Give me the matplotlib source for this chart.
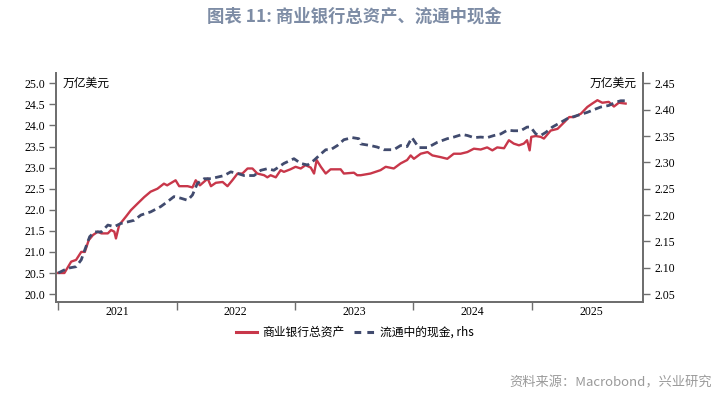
import matplotlib
matplotlib.use("Agg")
import matplotlib.pyplot as plt
from matplotlib.lines import Line2D
import pandas as pd

plt.rcParams["font.family"] = ["Noto Sans CJK SC", "DejaVu Sans"]

# 商业银行总资产 (万亿美元, 左轴)
assets_dates = [
    "2021-01-01", "2021-01-20", "2021-02-10", "2021-02-25", "2021-03-13", "2021-03-24",
    "2021-04-05", "2021-04-18", "2021-05-03", "2021-05-14", "2021-06-03", "2021-06-13",
    "2021-06-23", "2021-06-28", "2021-07-08", "2021-07-29", "2021-08-13", "2021-09-03",
    "2021-09-23", "2021-10-13", "2021-11-03", "2021-11-23", "2021-12-03", "2021-12-29",
    "2022-01-09", "2022-02-04", "2022-02-19", "2022-03-01", "2022-03-14", "2022-04-07",
    "2022-04-17", "2022-05-02", "2022-05-23", "2022-06-07", "2022-06-22", "2022-07-08",
    "2022-07-23", "2022-08-08", "2022-08-23", "2022-09-07", "2022-09-28", "2022-10-08",
    "2022-10-18", "2022-11-03", "2022-11-18", "2022-11-28", "2022-12-18", "2023-01-03",
    "2023-01-19", "2023-02-03", "2023-02-19", "2023-03-01", "2023-03-09", "2023-03-22",
    "2023-04-06", "2023-04-21", "2023-05-22", "2023-06-01", "2023-07-02", "2023-07-12",
    "2023-07-23", "2023-08-22", "2023-09-22", "2023-10-08", "2023-11-02", "2023-11-23",
    "2023-12-13", "2023-12-24", "2024-01-03", "2024-01-24", "2024-02-14", "2024-02-29",
    "2024-03-25", "2024-04-15", "2024-05-05", "2024-05-26", "2024-06-16", "2024-07-06",
    "2024-07-27", "2024-08-16", "2024-09-01", "2024-09-16", "2024-10-07", "2024-10-22",
    "2024-11-06", "2024-11-22", "2024-12-07", "2024-12-17", "2024-12-25", "2024-12-30",
    "2025-01-13", "2025-01-28", "2025-02-07", "2025-02-28", "2025-03-21", "2025-04-11",
    "2025-04-26", "2025-05-11", "2025-06-01", "2025-06-21", "2025-07-06", "2025-07-22",
    "2025-08-06", "2025-08-26", "2025-09-11", "2025-09-26", "2025-10-17",
]
assets = [
    20.50, 20.50, 20.77, 20.81, 21.00, 21.00,
    21.28, 21.40, 21.48, 21.44, 21.44, 21.52,
    21.48, 21.32, 21.64, 21.84, 21.99, 22.15,
    22.30, 22.43, 22.50, 22.62, 22.58, 22.70,
    22.56, 22.56, 22.53, 22.70, 22.58, 22.74,
    22.56, 22.64, 22.66, 22.56, 22.70, 22.86,
    22.86, 22.98, 22.98, 22.86, 22.82, 22.77,
    22.82, 22.77, 22.94, 22.90, 22.96, 23.02,
    22.98, 23.06, 23.00, 22.86, 23.18, 23.02,
    22.86, 22.96, 22.96, 22.86, 22.88, 22.82,
    22.82, 22.86, 22.94, 23.02, 22.98, 23.10,
    23.18, 23.29, 23.21, 23.33, 23.37, 23.29,
    23.25, 23.21, 23.33, 23.33, 23.37, 23.45,
    23.43, 23.48, 23.41, 23.48, 23.46, 23.65,
    23.57, 23.53, 23.57, 23.65, 23.41, 23.73,
    23.75, 23.73, 23.69, 23.88, 23.92, 24.08,
    24.20, 24.20, 24.28, 24.44, 24.52, 24.60,
    24.54, 24.56, 24.45, 24.54, 24.52,
]

# 流通中的现金 (万亿美元, 右轴)
cash_dates = [
    "2021-01-01", "2021-01-30", "2021-02-25", "2021-03-13", "2021-03-24", "2021-04-08",
    "2021-04-23", "2021-05-14", "2021-06-03", "2021-06-23", "2021-07-13", "2021-08-03",
    "2021-08-23", "2021-09-13", "2021-10-13", "2021-11-13", "2021-12-03", "2021-12-24",
    "2022-01-14", "2022-02-04", "2022-02-19", "2022-03-06", "2022-03-27", "2022-04-17",
    "2022-05-07", "2022-05-28", "2022-06-17", "2022-07-08", "2022-07-28", "2022-08-28",
    "2022-09-18", "2022-10-08", "2022-10-28", "2022-11-28", "2022-12-29", "2023-01-19",
    "2023-02-09", "2023-03-01", "2023-03-22", "2023-04-06", "2023-04-21", "2023-05-12",
    "2023-06-01", "2023-06-27", "2023-07-17", "2023-07-23", "2023-08-22", "2023-09-12",
    "2023-10-02", "2023-11-02", "2023-11-23", "2023-12-13", "2023-12-28", "2024-01-18",
    "2024-02-14", "2024-03-15", "2024-04-15", "2024-05-05", "2024-05-31", "2024-06-16",
    "2024-07-06", "2024-07-27", "2024-08-16", "2024-09-06", "2024-09-27", "2024-10-17",
    "2024-11-06", "2024-11-27", "2024-12-17", "2024-12-28", "2025-01-13", "2025-01-28",
    "2025-02-13", "2025-03-05", "2025-03-31", "2025-04-20", "2025-05-21", "2025-06-21",
    "2025-07-11", "2025-08-01", "2025-08-26", "2025-09-16", "2025-10-02", "2025-10-22",
]
cash = [
    2.090, 2.099, 2.102, 2.115, 2.134, 2.159,
    2.168, 2.168, 2.181, 2.178, 2.184, 2.187,
    2.190, 2.200, 2.206, 2.216, 2.225, 2.235,
    2.232, 2.228, 2.238, 2.260, 2.269, 2.269,
    2.272, 2.275, 2.282, 2.279, 2.275, 2.275,
    2.285, 2.288, 2.285, 2.298, 2.307, 2.298,
    2.295, 2.304, 2.316, 2.324, 2.324, 2.332,
    2.343, 2.347, 2.345, 2.335, 2.332, 2.329,
    2.324, 2.324, 2.332, 2.330, 2.347, 2.328,
    2.328, 2.338, 2.345, 2.348, 2.353, 2.351,
    2.347, 2.348, 2.347, 2.351, 2.354, 2.361,
    2.360, 2.360, 2.367, 2.367, 2.354, 2.351,
    2.357, 2.367, 2.376, 2.383, 2.389, 2.395,
    2.400, 2.405, 2.408, 2.414, 2.417, 2.417,
]

years = [2021, 2022, 2023, 2024, 2025]
left_ticks = [20.0, 20.5, 21.0, 21.5, 22.0, 22.5, 23.0, 23.5, 24.0, 24.5, 25.0]
right_ticks = [2.05, 2.10, 2.15, 2.20, 2.25, 2.30, 2.35, 2.40, 2.45]

red = "#C8374A"
navy = "#414B6E"
spine_grey = "#6E6E6E"
tick_font = {"family": "Liberation Serif", "size": 8.5}

fig = plt.figure(figsize=(7.24, 3.98), dpi=100)
ax = fig.add_axes([0.0773, 0.241, 0.811, 0.575])
ax2 = ax.twinx()

ax.plot(pd.to_datetime(assets_dates), assets, color=red, lw=1.7, zorder=3)
ax2.plot(pd.to_datetime(cash_dates), cash, color=navy, lw=2.0,
         dashes=(2.7, 1.6), zorder=2)

# right axis lined up so 20.0 <-> 2.05 and 25.0 <-> 2.45
ax.set_ylim(19.81, 25.24)
ax2.set_ylim(2.05 + (19.81 - 20) * 0.08, 2.05 + (25.24 - 20) * 0.08)
ax.set_xlim(pd.Timestamp("2020-12-25"), pd.Timestamp("2025-12-10"))

ax.set_yticks(left_ticks)
ax.set_yticklabels([f"{v:.1f}" for v in left_ticks], fontdict=tick_font)
ax2.set_yticks(right_ticks)
ax2.set_yticklabels([f"{v:.2f}" for v in right_ticks], fontdict=tick_font)

# year boundaries as ticks, labels centred in each year
ax.set_xticks([pd.Timestamp(f"{y}-01-01") for y in years])
ax.set_xticklabels([])
ax.set_xticks([pd.Timestamp(f"{y}-07-02") for y in years], minor=True)
ax.set_xticklabels([str(y) for y in years], minor=True, fontdict=tick_font)
ax.tick_params(axis="x", which="major", length=6, width=1.0, color=spine_grey)
ax.tick_params(axis="x", which="minor", length=0, pad=3)
ax.tick_params(axis="y", length=5, width=1.0, color=spine_grey, pad=3)
ax2.tick_params(axis="y", length=5, width=1.0, color=spine_grey, pad=3)

for a in (ax, ax2):
    a.spines["top"].set_visible(False)
    for s in ("left", "right", "bottom"):
        a.spines[s].set_color(spine_grey)
        a.spines[s].set_linewidth(1.3)

ax.text(0.012, 0.985, "万亿美元", transform=ax.transAxes, fontsize=8.5,
        ha="left", va="top")
ax.text(0.988, 0.985, "万亿美元", transform=ax.transAxes, fontsize=8.5,
        ha="right", va="top")

fig.text(0.49, 0.957, "图表 11: 商业银行总资产、流通中现金", ha="center", va="center",
         fontsize=12.5, fontweight="bold", color="#7D8CA5")

handles = [
    Line2D([], [], color=red, lw=2.2),
    Line2D([], [], color=navy, lw=2.2, dashes=(2.2, 2.0)),
]
fig.legend(handles, ["商业银行总资产", "流通中的现金, rhs"], loc="center",
           bbox_to_anchor=(0.49, 0.165), ncol=2, frameon=False, fontsize=8.5,
           handlelength=1.8, handletextpad=0.4, columnspacing=0.8)

fig.text(0.983, 0.037, "资料来源：Macrobond，兴业研究", ha="right", va="center",
         fontsize=9.5, color="#9A9A9A")

fig.savefig("out.png", dpi=100)
